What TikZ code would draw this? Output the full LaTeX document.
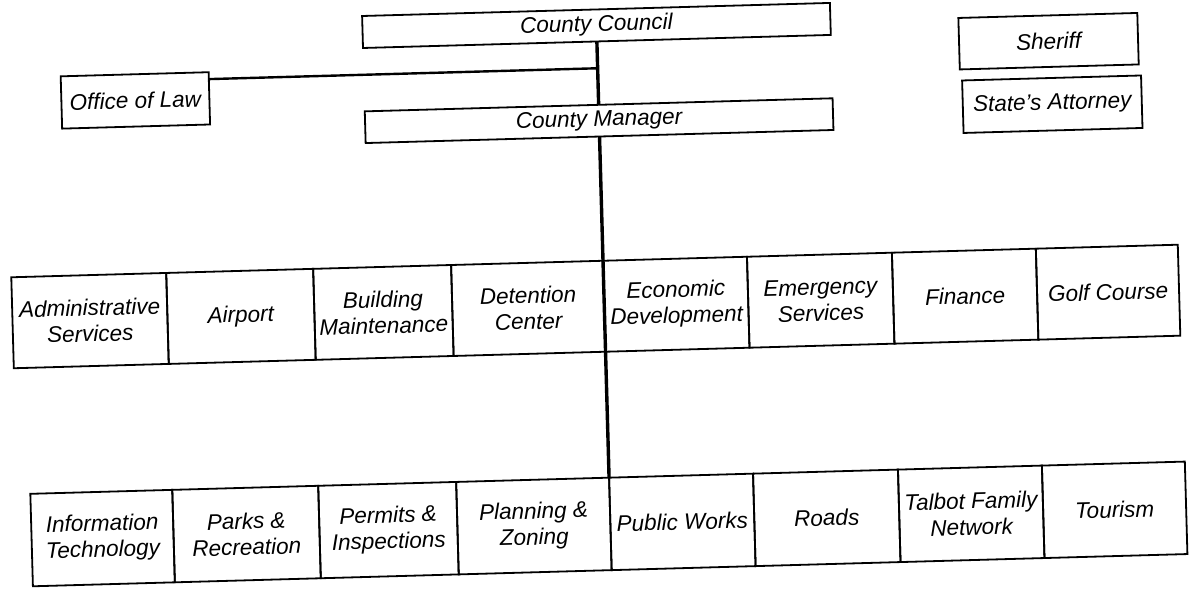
\documentclass[tikz,border=0pt]{standalone}
\usepackage{fontspec}
\setmainfont{Liberation Sans}
\usetikzlibrary{calc}
\begin{document}
\begin{tikzpicture}[x=1pt,y=-1pt,
  box/.style={draw=black, line width=1.8pt, inner sep=0pt, outer sep=0pt, align=center,
    font=\fontsize{22.5}{26}\selectfont\itshape, transform shape},
  r1/.style={box, minimum height=91pt},
  r2/.style={box, minimum height=92.5pt},
  trunk/.style={draw=black, line width=3.4pt},
  link/.style={draw=black, line width=2.4pt}]
\useasboundingbox (0,0) rectangle (1191,593);
\fill[white] (0,0) rectangle (1191,593);
\begin{scope}[rotate around={1.6:(595,296)}]
% top level
\node[box, minimum width=468pt, minimum height=32pt] (cc) at (604,25.6) {County Council};
\node[box, minimum width=468pt, minimum height=31.7pt] (cm) at (604,120.85) {County Manager};
\node[box, minimum width=148pt, minimum height=52.3pt] (ol) at (141,87.65) {Office of Law};
\node[box, minimum width=179pt, minimum height=51.5pt] (sh) at (1055.5,53.95) {Sheriff};
\node[box, minimum width=179pt, minimum height=52.5pt] (sa) at (1057.5,117.05) {State's Attorney};
% row 1
\node[r1, minimum width=155pt] (r1a) at (89.5,306.5) {Administrative\\Services};
\node[r1, minimum width=147pt] (r1b) at (240.5,306.5) {Airport};
\node[r1, minimum width=138pt] (r1c) at (383,306.5) {Building\\Maintenance};
\node[r1, minimum width=152pt] (r1d) at (528,306.5) {Detention\\Center};
\node[r1, minimum width=144pt] (r1e) at (676,306.5) {Economic\\Development};
\node[r1, minimum width=145pt] (r1f) at (820.5,306.5) {Emergency\\Services};
\node[r1, minimum width=144pt] (r1g) at (965,306.5) {Finance};
\node[r1, minimum width=142pt] (r1h) at (1108,306.5) {Golf Course};
% row 2
\node[r2, minimum width=142pt] (r2a) at (96,524.25) {Information\\Technology};
\node[r2, minimum width=146pt] (r2b) at (240,524.25) {Parks \&\\Recreation};
\node[r2, minimum width=138pt] (r2c) at (382,524.25) {Permits \&\\Inspections};
\node[r2, minimum width=153pt] (r2d) at (527.5,524.25) {Planning \&\\Zoning};
\node[r2, minimum width=144pt] (r2e) at (676,524.25) {Public Works};
\node[r2, minimum width=145pt] (r2f) at (820.5,524.25) {Roads};
\node[r2, minimum width=144pt] (r2g) at (965,524.25) {Talbot Family\\Network};
\node[r2, minimum width=143pt] (r2h) at (1108.5,524.25) {Tourism};
% connectors
\draw[trunk] (cc.south) -- (cm.north);
\draw[trunk] (cm.south) -- (r2e.north west);
\draw[link] ($(ol.north east)!0.132!(ol.south east)$) -- ($(cc.south)!0.423!(cm.north)$);
\end{scope}
\end{tikzpicture}
\end{document}
